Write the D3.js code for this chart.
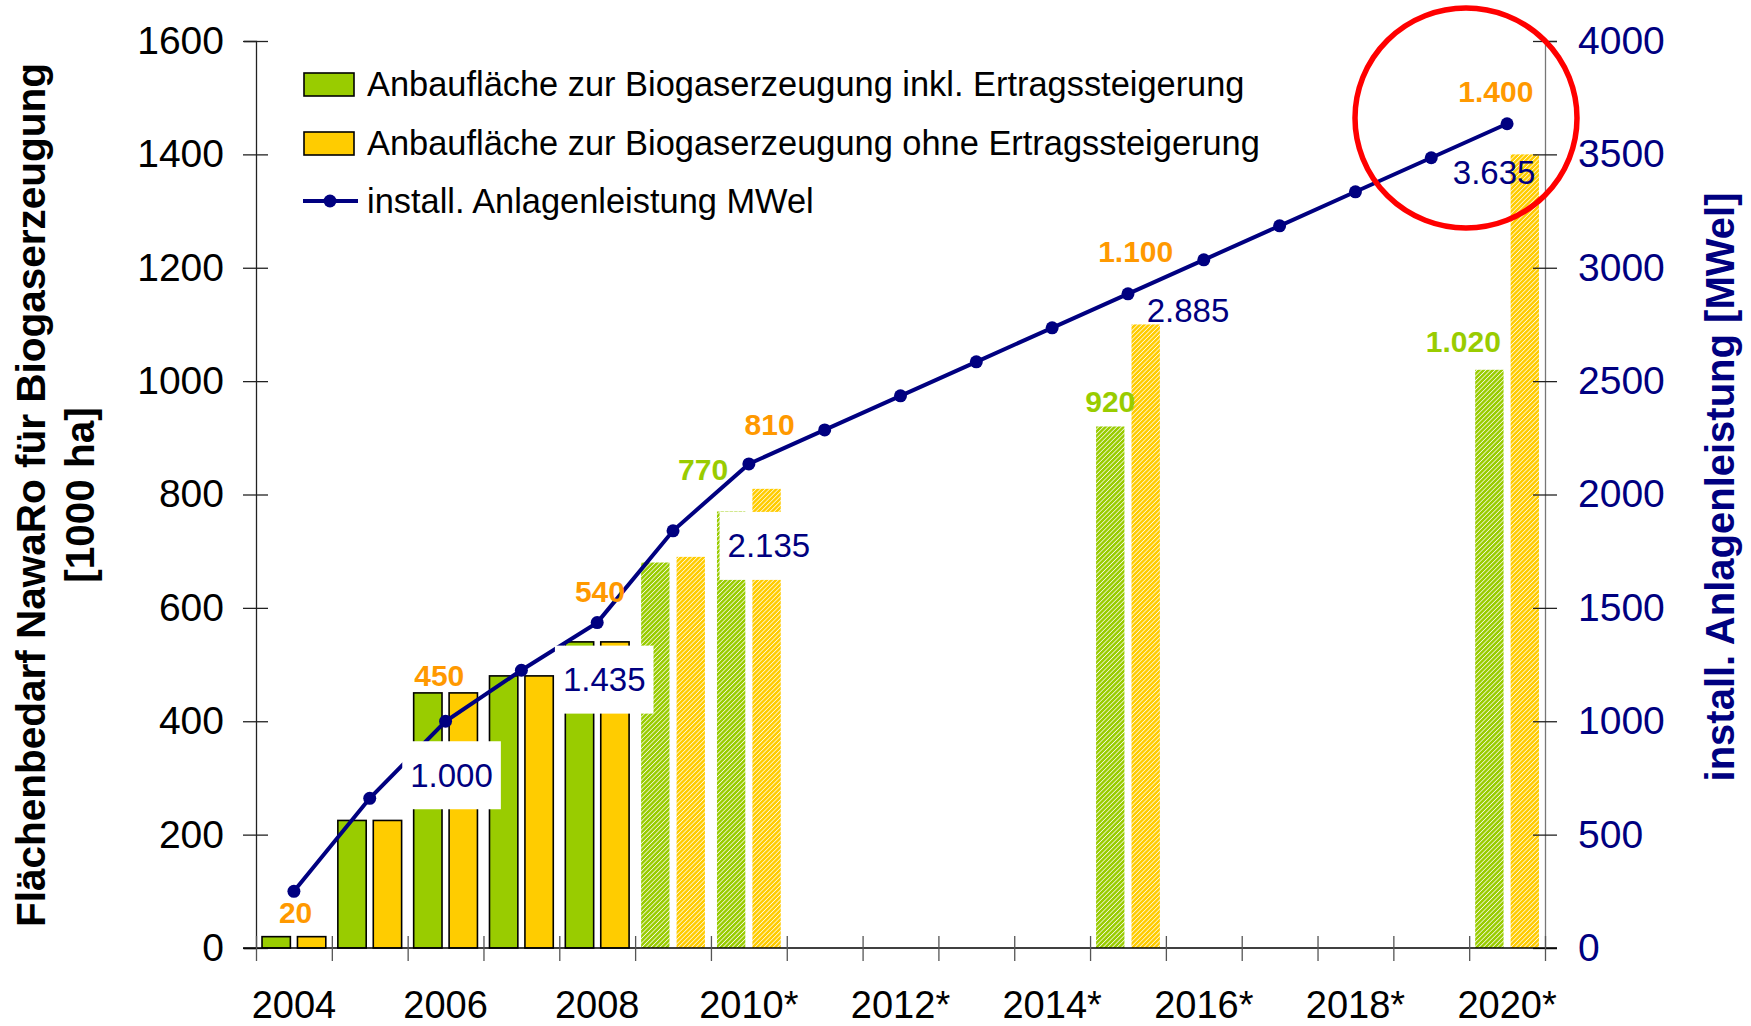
<!DOCTYPE html>
<html>
<head>
	<meta charset="utf-8">
	<title>Biogas Flächenbedarf</title>
	<script src="https://d3js.org/d3.v7.min.js"></script>
	<style>
		body { margin: 0; background: #fff; }
		text { font-family: "Liberation Sans", Arial, sans-serif; }
	</style>
</head>
<body>
	<svg width="1751" height="1026"></svg>
	<script>
		// data
		const years = ["2004","2005","2006","2007","2008","2009","2010","2011","2012","2013","2014","2015","2016","2017","2018","2019","2020"];
		const yearLabels = ["2004","","2006","","2008","","2010*","","2012*","","2014*","","2016*","","2018*","","2020*"];
		const areaIncl = [20, 225, 450, 480, 540, 680, 770, null, null, null, null, 920, null, null, null, null, 1020];
		const areaExcl = [20, 225, 450, 480, 540, 690, 810, null, null, null, null, 1100, null, null, null, null, 1400];
		const projected = [false, false, false, false, false, true, true, false, false, false, false, true, false, false, false, false, true];
		const mwel = [250, 660, 1000, 1225, 1435, 1840, 2135, 2285, 2435, 2585, 2735, 2885, 3035, 3185, 3335, 3485, 3635];
		const leftTicks = [0, 200, 400, 600, 800, 1000, 1200, 1400, 1600];
		const rightTicks = [0, 500, 1000, 1500, 2000, 2500, 3000, 3500, 4000];
		const seriesNames = ["Anbaufläche zur Biogaserzeugung inkl. Ertragssteigerung",
			"Anbaufläche zur Biogaserzeugung ohne Ertragssteigerung",
			"install. Anlagenleistung MWel"];
		// which values get a label
		const barLabels = [
			{year: "2004", series: "excl", text: "20"},
			{year: "2006", series: "excl", text: "450"},
			{year: "2008", series: "excl", text: "540"},
			{year: "2010", series: "incl", text: "770"},
			{year: "2010", series: "excl", text: "810"},
			{year: "2015", series: "incl", text: "920"},
			{year: "2015", series: "excl", text: "1.100"},
			{year: "2020", series: "incl", text: "1.020"},
			{year: "2020", series: "excl", text: "1.400"}
		];
		const lineLabels = [
			{year: "2006", text: "1.000", box: true},
			{year: "2008", text: "1.435", box: true},
			{year: "2010", text: "2.135", box: true},
			{year: "2015", text: "2.885", box: false},
			{year: "2020", text: "3.635", box: false}
		];

		// label nudges (layout only)
		const barLabelNudge = [[-16,-24],[-24,-17],[-15,-50],[-28,-42],[3,-64],[0,-25],[-10,-73],[-26,-28],[-29,-63]];
		const lineLabelNudge = [[6,54],[7,57],[20,82],[60,17],[-13,49]];

		const green = "#99cc00", yellow = "#ffcc00", orange = "#ff9900", navy = "#000080";
		const plotLeft = 256, plotRight = 1545, plotTop = 41, plotBottom = 948;

		const svg = d3.select("svg");

		// hatch patterns for projected values
		const defs = svg.append("defs");
		[["hatchGreen", green], ["hatchYellow", yellow]].forEach(function (p) {
			const pat = defs.append("pattern")
				.attr("id", p[0])
				.attr("patternUnits", "userSpaceOnUse")
				.attr("width", 3.2).attr("height", 3.2)
				.attr("patternTransform", "rotate(45)");
			pat.append("rect").attr("width", 3.2).attr("height", 3.2).attr("fill", p[1]);
			pat.append("line").attr("x1", 0).attr("y1", 0).attr("x2", 0).attr("y2", 3.2)
				.attr("stroke", "#fff").attr("stroke-width", 1.4);
		});

		const x = d3.scaleBand().domain(years).range([plotLeft, plotRight]);
		const xInner = d3.scaleBand().domain(["incl", "excl"]).range([0, x.bandwidth()])
			.paddingInner(0.2).paddingOuter(0.17);
		const yL = d3.scaleLinear().domain([0, 1600]).range([plotBottom, plotTop]);
		const yR = d3.scaleLinear().domain([0, 4000]).range([plotBottom, plotTop]);

		const rows = years.map(function (y, i) {
			return {year: y, incl: areaIncl[i], excl: areaExcl[i], proj: projected[i], mw: mwel[i]};
		});

		// bars
		const barG = svg.append("g");
		["incl", "excl"].forEach(function (s) {
			barG.selectAll(".bar-" + s)
				.data(rows.filter(function (d) { return d[s] != null; }))
				.enter()
				.append("rect")
				.attr("x", function (d) { return x(d.year) + xInner(s); })
				.attr("y", function (d) { return yL(d[s]); })
				.attr("width", xInner.bandwidth())
				.attr("height", function (d) { return yL(0) - yL(d[s]); })
				.attr("fill", function (d) {
					if (d.proj) return s == "incl" ? "url(#hatchGreen)" : "url(#hatchYellow)";
					return s == "incl" ? green : yellow;
				})
				.attr("stroke", function (d) { return d.proj ? "none" : "#000"; })
				.attr("stroke-width", 1.6);
		});

		// left axis
		const axL = svg.append("g")
			.attr("transform", `translate(${plotLeft},0)`)
			.call(d3.axisLeft(yL).tickValues(leftTicks).tickFormat(d3.format("d")).tickSize(12).tickPadding(20));
		axL.select(".domain").attr("stroke", "#222").attr("stroke-width", 1.3);
		axL.selectAll(".tick line").attr("x1", 12).attr("x2", -13).attr("stroke", "#222").attr("stroke-width", 1.3);
		axL.selectAll(".tick text").attr("font-size", 39).attr("fill", "#000")
			.attr("font-family", "Liberation Sans, Arial, sans-serif");

		// right axis
		const axR = svg.append("g")
			.attr("transform", `translate(${plotRight},0)`)
			.call(d3.axisRight(yR).tickValues(rightTicks).tickFormat(d3.format("d")).tickSize(12).tickPadding(21));
		axR.select(".domain").attr("stroke", "#777").attr("stroke-width", 1.3);
		axR.selectAll(".tick line").attr("x1", -12).attr("x2", 12).attr("stroke", "#222").attr("stroke-width", 1.3);
		axR.selectAll(".tick text").attr("font-size", 39).attr("fill", navy)
			.attr("font-family", "Liberation Sans, Arial, sans-serif");

		// bottom axis: labels at band centres, ticks at band edges
		const axB = svg.append("g")
			.attr("transform", `translate(0,${plotBottom})`)
			.call(d3.axisBottom(x).tickSize(0).tickPadding(43).tickFormat(function (d, i) { return yearLabels[i]; }));
		axB.select(".domain").attr("d", `M${plotLeft - 13},0H${plotRight + 12}`).attr("stroke", "#000").attr("stroke-width", 1.6);
		axB.selectAll(".tick text").attr("font-size", 38).attr("fill", "#000")
			.attr("font-family", "Liberation Sans, Arial, sans-serif");
		const xEdge = d3.scaleLinear().domain([0, years.length]).range([plotLeft, plotRight]);
		const edgeAx = svg.append("g")
			.attr("transform", `translate(0,${plotBottom})`)
			.call(d3.axisBottom(xEdge).tickValues(d3.range(years.length + 1)).tickFormat("").tickSize(13));
		edgeAx.select(".domain").remove();
		edgeAx.selectAll(".tick line").attr("y1", -12).attr("stroke", "#555").attr("stroke-width", 1.3);

		// line series
		const line = d3.line()
			.x(function (d) { return x(d.year) + x.bandwidth() / 2; })
			.y(function (d) { return yR(d.mw); });
		svg.append("path")
			.datum(rows)
			.attr("d", line)
			.attr("fill", "none")
			.attr("stroke", navy)
			.attr("stroke-width", 4);
		svg.append("g").selectAll("circle")
			.data(rows)
			.enter()
			.append("circle")
			.attr("cx", function (d) { return x(d.year) + x.bandwidth() / 2; })
			.attr("cy", function (d) { return yR(d.mw); })
			.attr("r", 6.5)
			.attr("fill", navy);

		// bar value labels
		barLabels.forEach(function (l, i) {
			const r = rows[years.indexOf(l.year)];
			svg.append("text")
				.attr("x", x(l.year) + xInner(l.series) + xInner.bandwidth() / 2 + barLabelNudge[i][0])
				.attr("y", yL(r[l.series]) + barLabelNudge[i][1])
				.attr("dy", "0.35em")
				.attr("text-anchor", "middle")
				.attr("font-size", 30)
				.attr("font-weight", "bold")
				.attr("fill", l.series == "incl" ? green : orange)
				.text(l.text);
		});

		// line value labels, some with white box
		lineLabels.forEach(function (l, i) {
			const r = rows[years.indexOf(l.year)];
			const cx = x(l.year) + x.bandwidth() / 2 + lineLabelNudge[i][0];
			const cy = yR(r.mw) + lineLabelNudge[i][1];
			const g = svg.append("g");
			const t = g.append("text")
				.attr("x", cx).attr("y", cy)
				.attr("dy", "0.35em")
				.attr("text-anchor", "middle")
				.attr("font-size", 33)
				.attr("fill", navy)
				.text(l.text);
			if (l.box) {
				const bb = t.node().getBBox();
				g.insert("rect", "text")
					.attr("x", bb.x - 8).attr("y", cy - 34)
					.attr("width", bb.width + 16).attr("height", 68)
					.attr("fill", "#fff");
			}
		});

		// legend
		const legend = svg.append("g").attr("transform", "translate(303,0)");
		const legY = [84, 143, 201];
		[green, yellow].forEach(function (c, i) {
			legend.append("rect")
				.attr("x", 1).attr("y", legY[i] - 11)
				.attr("width", 50).attr("height", 23)
				.attr("fill", c).attr("stroke", "#000").attr("stroke-width", 1.6);
		});
		legend.append("line").attr("x1", 0).attr("x2", 55).attr("y1", legY[2]).attr("y2", legY[2])
			.attr("stroke", navy).attr("stroke-width", 4);
		legend.append("circle").attr("cx", 27).attr("cy", legY[2]).attr("r", 6.5).attr("fill", navy);
		seriesNames.forEach(function (n, i) {
			legend.append("text")
				.attr("x", 64).attr("y", legY[i])
				.attr("dy", "0.35em")
				.attr("font-size", 34.4)
				.attr("fill", "#000")
				.text(n);
		});

		// axis titles
		svg.append("text")
			.attr("transform", "translate(31,495) rotate(-90)")
			.attr("dy", "0.35em")
			.attr("text-anchor", "middle")
			.attr("font-size", 40.5).attr("font-weight", "bold")
			.text("Flächenbedarf NawaRo für Biogaserzeugung");
		svg.append("text")
			.attr("transform", "translate(80,495) rotate(-90)")
			.attr("dy", "0.35em")
			.attr("text-anchor", "middle")
			.attr("font-size", 40.5).attr("font-weight", "bold")
			.text("[1000 ha]");
		svg.append("text")
			.attr("transform", "translate(1720,487) rotate(-90)")
			.attr("dy", "0.35em")
			.attr("text-anchor", "middle")
			.attr("font-size", 40).attr("font-weight", "bold")
			.attr("fill", navy)
			.text("install. Anlagenleistung [MWel]");

		// red highlight circle round the 2020 value
		svg.append("ellipse")
			.attr("cx", 1466).attr("cy", 118)
			.attr("rx", 111).attr("ry", 110)
			.attr("fill", "none")
			.attr("stroke", "#ff0000")
			.attr("stroke-width", 5.5);
	</script>
</body>
</html>
